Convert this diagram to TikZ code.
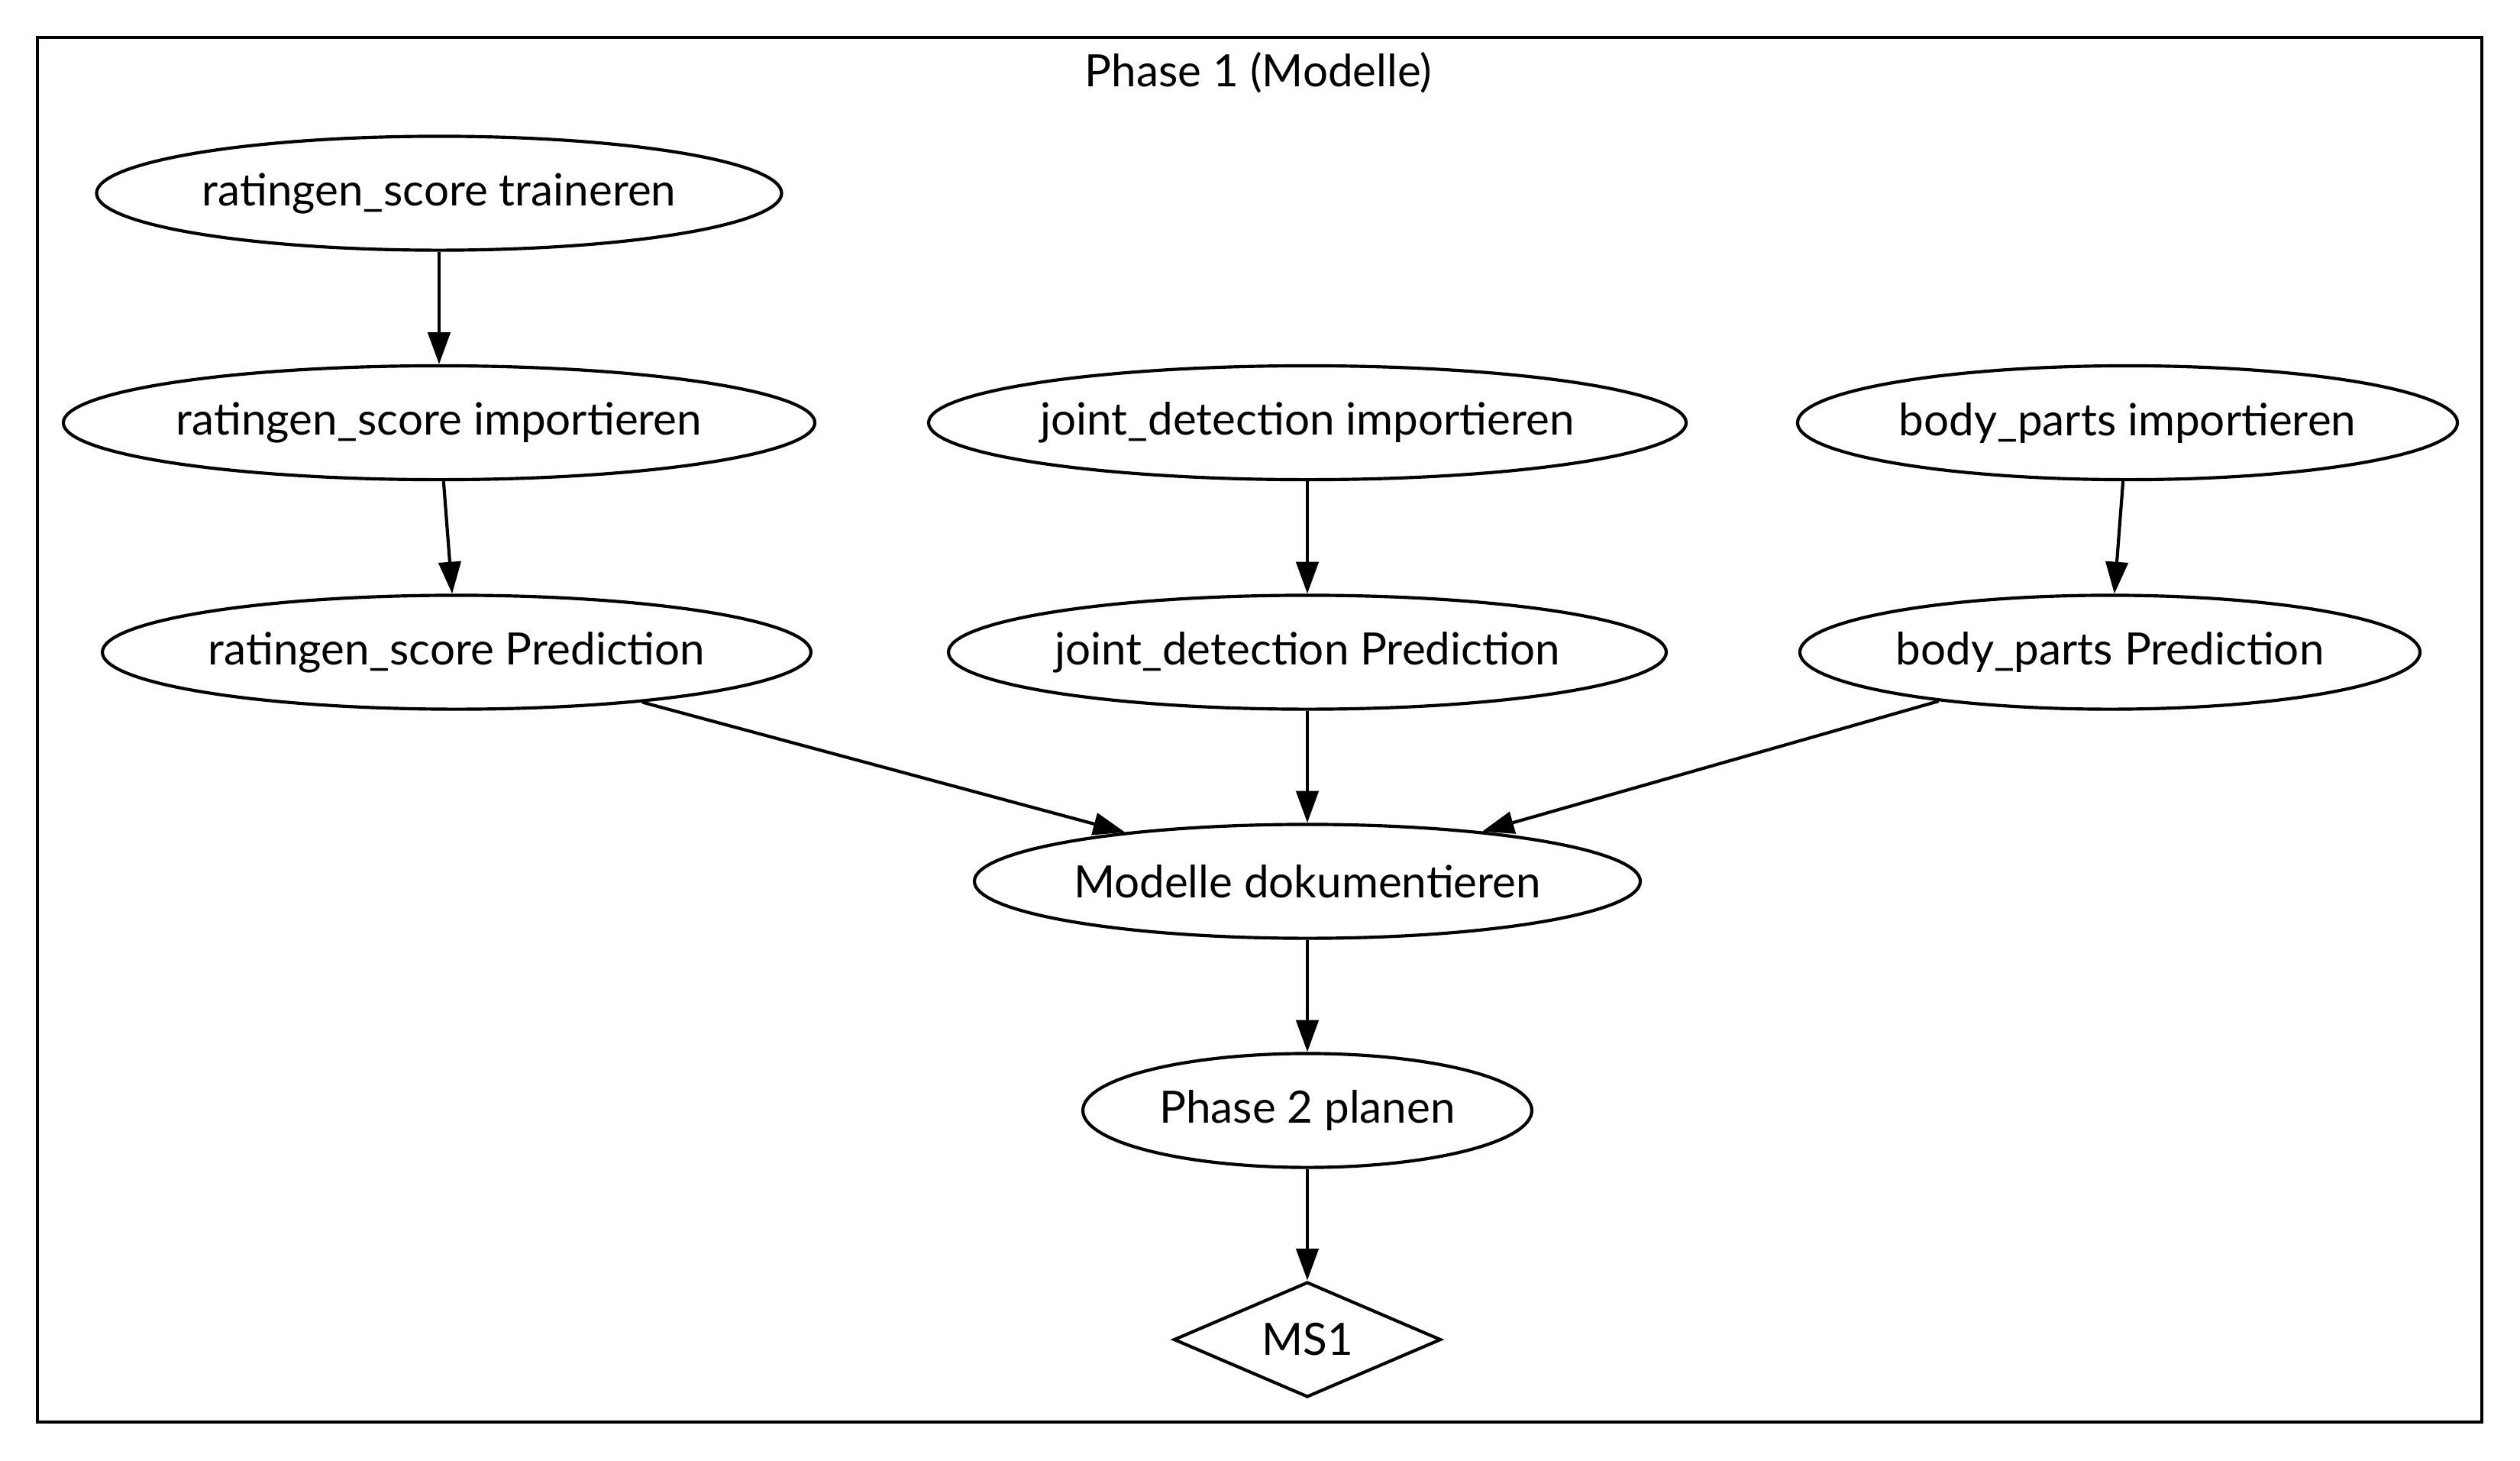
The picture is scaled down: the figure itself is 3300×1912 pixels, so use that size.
\documentclass[tikz,border=0pt]{standalone}
\usepackage{fontspec}
\setmainfont{Lato}
\usetikzlibrary{arrows.meta,shapes.geometric}
\tikzset{
  task/.style={draw, ellipse, line width=1pt, inner sep=0pt, minimum height=35.8pt, font=\fontsize{14pt}{17pt}\selectfont},
  mile/.style={draw, diamond, line width=1pt, inner sep=0pt, shape aspect=2.3, minimum width=84pt, minimum height=36.2pt, font=\fontsize{14pt}{17pt}\selectfont},
  edge/.style={line width=1pt, -{Triangle[length=10pt,width=7pt]}},
  frame/.style={draw, line width=1pt}
}
\begin{document}
\begin{tikzpicture}[x=0.24pt,y=-0.24pt]
\useasboundingbox (0,0) rectangle (3300,1912);
\draw[frame] (49,49) rectangle (3250,1862);
\node[font=\fontsize{14pt}{17pt}\selectfont, anchor=base, inner sep=0pt] (title) at (1648,113) {Phase 1 (Modelle)};
\node[task, minimum width=215.3pt] (A) at (575,253) {ratingen\_score traineren};
\node[task, minimum width=236.2pt] (B) at (575,553.5) {ratingen\_score importieren};
\node[task, minimum width=222.7pt] (C) at (598,854) {ratingen\_score Prediction};
\node[task, minimum width=238.1pt] (D) at (1712,553.5) {joint\_detection importieren};
\node[task, minimum width=225.6pt] (E) at (1712,854) {joint\_detection Prediction};
\node[task, minimum width=207.4pt] (F) at (2786,553.5) {body\_parts importieren};
\node[task, minimum width=194.9pt] (G) at (2763,854) {body\_parts Prediction};
\node[task, minimum width=209.3pt] (H) at (1712,1154) {Modelle dokumentieren};
\node[task, minimum width=141.1pt] (I) at (1712,1454) {Phase 2 planen};
\node[mile] (J) at (1712,1754) {MS1};
\draw[edge] (A) -- (B);
\draw[edge] (B) -- (C);
\draw[edge] (D) -- (E);
\draw[edge] (F) -- (G);
\draw[edge] (C) -- (H);
\draw[edge] (E) -- (H);
\draw[edge] (G) -- (H);
\draw[edge] (H) -- (I);
\draw[edge] (I) -- (J);
\end{tikzpicture}
\end{document}
